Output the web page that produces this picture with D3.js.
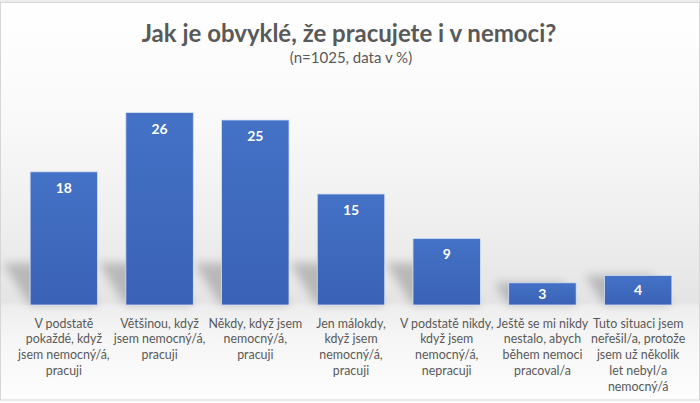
<!DOCTYPE html>
<html>
<head>
<meta charset="utf-8">
<title>Jak je obvyklé, že pracujete i v nemoci?</title>
<style>
  body { margin: 0; background: #fff; }
  svg { display: block; font-family: Lato, "Open Sans", sans-serif; }
  .title { font-size: 24px; font-weight: bold; fill: #595959; }
  .subtitle { font-size: 15px; fill: #595959; }
  .cat text { font-size: 12.4px; fill: #595959; }
  .val { font-size: 14px; font-weight: bold; fill: #fff; }
</style>
</head>
<body>
<svg width="700" height="403"></svg>
<script src="https://cdn.jsdelivr.net/npm/d3@7"></script>
<script>
// kategorie (\n = zalomení řádku jako v originálu)
var categories = [
  "V podstatě\npokaždé, když\njsem nemocný/á,\npracuji",
  "Většinou, když\njsem nemocný/á,\npracuji",
  "Někdy, když jsem\nnemocný/á,\npracuji",
  "Jen málokdy,\nkdyž jsem\nnemocný/á,\npracuji",
  "V podstatě nikdy,\nkdyž jsem\nnemocný/á,\nnepracuji",
  "Ještě se mi nikdy\nnestalo, abych\nběhem nemoci\npracoval/a",
  "Tuto situaci jsem\nneřešil/a, protože\njsem už několik\nlet nebyl/a\nnemocný/á"
];
var values = [18, 26, 25, 15, 9, 3, 4];
var valueLabels = ["18", "26", "25", "15", "9", "3", "4"];
var titleText = "Jak je obvyklé, že pracujete i v nemoci?";
var subtitleText = "(n=1025, data v %)";

var svg = d3.select("svg"),
    W = +svg.attr("width"),
    H = +svg.attr("height"),
    baseY = 305;

var x = d3.scaleBand().domain(d3.range(categories.length))
    .range([16, 686]).paddingInner(0.295).paddingOuter(0.1475);
var y = d3.scaleLinear().domain([0, 30]).range([baseY, baseY - 222]);

var defs = svg.append("defs");
var bg = defs.append("linearGradient").attr("id", "bgGrad")
    .attr("gradientUnits", "userSpaceOnUse")
    .attr("x1", 0).attr("y1", 0).attr("x2", 0).attr("y2", H);
[[0, "#ffffff"], [120, "#f9f9f9"], [230, "#eeeeee"], [302, "#e4e4e4"],
 [307, "#eeeeee"], [340, "#f6f6f6"], [400, "#fdfdfd"]].forEach(function(s) {
  bg.append("stop").attr("offset", s[0] / H).style("stop-color", s[1]);
});
var barGrad = defs.append("linearGradient").attr("id", "barGrad")
    .attr("x1", "0%").attr("y1", "0%").attr("x2", "0%").attr("y2", "100%");
barGrad.append("stop").attr("offset", "0%").style("stop-color", "#4472c6");
barGrad.append("stop").attr("offset", "100%").style("stop-color", "#3a62b6");
defs.append("filter").attr("id", "blur").attr("x", "-50%").attr("y", "-50%")
    .attr("width", "200%").attr("height", "200%")
  .append("feGaussianBlur").attr("stdDeviation", 5);

// pozadí a rámeček
svg.append("rect").attr("width", W).attr("height", H).attr("fill", "#ffffff");
svg.append("rect").attr("x", 0).attr("y", 0).attr("width", W).attr("height", 2.5).attr("fill", "#ececec");
svg.append("rect").attr("x", 0.5).attr("y", 2.5).attr("width", W - 1).attr("height", 397.5)
    .attr("fill", "url(#bgGrad)").attr("stroke", "#d6d6d6").attr("stroke-width", 1);

// nadpis
svg.append("text").attr("class", "title").attr("x", 349).attr("y", 42)
    .attr("text-anchor", "middle").text(titleText);
svg.append("text").attr("class", "subtitle").attr("x", 351).attr("y", 63)
    .attr("text-anchor", "middle").text(subtitleText);

// stíny za sloupci
svg.append("g").selectAll("path").data(values).enter().append("path")
    .attr("filter", "url(#blur)")
    .attr("fill", "#000").attr("opacity", 0.2)
    .attr("d", function(d, i) {
      var x0 = x(i), x1 = x(i) + x.bandwidth(),
          h = Math.min(baseY - y(d), 42), dx = h * 0.65;
      return "M" + x0 + "," + baseY + "L" + x1 + "," + baseY +
             "L" + (x1 - dx) + "," + (baseY - h) + "L" + (x0 - dx) + "," + (baseY - h) + "Z";
    });

// sloupce
svg.append("g").selectAll("rect").data(values).enter().append("rect")
    .attr("x", function(d, i) { return x(i); })
    .attr("y", function(d) { return y(d); })
    .attr("width", x.bandwidth())
    .attr("height", function(d) { return baseY - y(d); })
    .attr("fill", "url(#barGrad)")
    .attr("stroke", "#d8e1f1").attr("stroke-width", 0.8);

// hodnoty
svg.append("g").selectAll("text").data(values).enter().append("text")
    .attr("class", "val").attr("text-anchor", "middle")
    .attr("x", function(d, i) { return x(i) + x.bandwidth() / 2; })
    .attr("y", function(d) { return y(d) + Math.min(16, (baseY - y(d)) / 2) + 5; })
    .text(function(d, i) { return valueLabels[i]; });

// popisky kategorií
var cat = svg.append("g").attr("class", "cat").selectAll("text").data(categories).enter()
    .append("text").attr("text-anchor", "middle")
    .attr("transform", function(d, i) {
      return "translate(" + (x(i) + x.bandwidth() / 2) + ",327.5)";
    });
cat.selectAll("tspan").data(function(d) { return d.split("\n"); }).enter()
    .append("tspan").attr("x", 0).attr("dy", function(d, j) { return j ? 15.9 : 0; })
    .text(function(d) { return d; });
</script>
</body>
</html>
